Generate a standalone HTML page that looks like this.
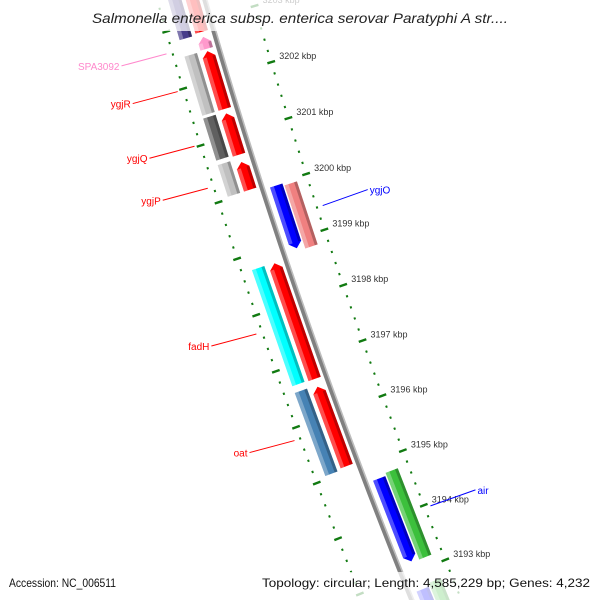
<!DOCTYPE html>
<html><head><meta charset="utf-8"><style>
html,body{margin:0;padding:0;background:#fff;width:600px;height:600px;overflow:hidden;}
svg{display:block;font-family:"Liberation Sans",sans-serif;}
</style></head><body>
<svg id="map" width="600" height="600" viewBox="0 0 600 600" xmlns="http://www.w3.org/2000/svg" overflow="hidden">
<g id="g-backbone"></g>
<g id="g-ticks"></g>
<g id="g-features"></g>
<g id="g-labels"></g>
<rect x="86" y="0" width="428" height="31" fill="#fff" fill-opacity="0.75"/>
<text x="300" y="23" text-anchor="middle" font-style="italic" font-size="14" fill="#222" textLength="416" lengthAdjust="spacingAndGlyphs">Salmonella enterica subsp. enterica serovar Paratyphi A str....</text>
<rect x="0" y="572" width="124" height="28" fill="#fff" fill-opacity="0.75"/>
<rect x="256" y="572" width="344" height="28" fill="#fff" fill-opacity="0.75"/>
<text x="9" y="587" font-size="12" fill="#111" textLength="107" lengthAdjust="spacingAndGlyphs">Accession: NC_006511</text>
<text x="262" y="587" font-size="12" fill="#111" textLength="328" lengthAdjust="spacingAndGlyphs">Topology: circular; Length: 4,585,229 bp; Genes: 4,232</text>
</svg>
<script>
// ---- data (kbp) ----
const majorTicks = [3204,3203,3202,3201,3200,3199,3198,3197,3196,3195,3194,3193,3192];
const tickLabels = ["3204 kbp","3203 kbp","3202 kbp","3201 kbp","3200 kbp","3199 kbp","3198 kbp","3197 kbp","3196 kbp","3195 kbp","3194 kbp","3193 kbp","3192 kbp"];
const leftInnerStart = [3202.83,3202.53,3201.47,3200.66,3200.04,3196.66,3195.09];
const leftInnerEnd   = [3203.70,3202.74,3202.49,3201.39,3200.53,3198.73,3196.52];
const leftInnerColor = ["#ff0000","#ff99cc","#ff0000","#ff0000","#ff0000","#ff0000","#ff0000"];
const leftOuterStart = [3202.80,3201.47,3200.68,3200.04,3196.67,3195.06];
const leftOuterEnd   = [3203.70,3202.51,3201.42,3200.60,3198.74,3196.55];
const leftOuterColor = ["#483d8b","#c0c0c0","#606060","#c0c0c0","#00ffff","#4682b4"];
const rightInnerStart = [3198.85,3193.19,3191.40];
const rightInnerEnd   = [3199.97,3194.70,3192.68];
const rightInnerColor = ["#0000ff","#0000ff","#0000ff"];
const rightOuterStart = [3198.80,3193.17,3191.40];
const rightOuterEnd   = [3199.93,3194.75,3192.74];
const rightOuterColor = ["#f08080","#3cc03c","#3cc03c"];
const geneNames = ["SPA3092","ygjR","ygjQ","ygjP","fadH","oat","ygjO","air"];
const geneKbp   = [3202.64,3201.98,3201.02,3200.28,3197.70,3195.80,3199.40,3193.95];
const geneSide  = ["L","L","L","L","L","L","R","R"];
const geneColor = ["#ff88cc","#ff0000","#ff0000","#ff0000","#ff0000","#ff0000","#0000ff","#0000ff"];

// ---- geometry ----
const CX=6039, CY=-1676, R0=6070, A0=161, K=0.5574, KREF=3198;
function P(kbp,off){const a=(A0+(kbp-KREF)*K)*Math.PI/180;const r=R0+off;return [CX+r*Math.cos(a),CY+r*Math.sin(a)];}
const NS="http://www.w3.org/2000/svg";
function mk(tag,attrs,parent){const e=document.createElementNS(NS,tag);for(const k in attrs)e.setAttribute(k,attrs[k]);parent.appendChild(e);return e;}
function poly(pts){return pts.map(p=>p[0].toFixed(2)+","+p[1].toFixed(2)).join(" ");}

// backbone
const gb=document.getElementById('g-backbone');
function arcPts(off){const a=[];for(let k=3205;k>=3190;k-=0.5)a.push(P(k,off));return a;}
const bb1=mk('polyline',{points:poly(arcPts(0.6)),fill:'none',stroke:'#808080','stroke-width':4},gb);


const bb2=mk('polyline',{points:poly(arcPts(-1.8)),fill:'none',stroke:'#bdbdbd','stroke-width':1.6},gb);



// ticks
const gt=document.getElementById('g-ticks');
const TICK='#117a11';
for(let i=0;i<majorTicks.length-1;i++){
  for(let j=0;j<5;j++){
    const k=majorTicks[i]-j*0.2;
    const major=(j===0);
    const len=major?4:1;
    [-46,46].forEach(o=>{
      const a=P(k,o-len),b=P(k,o+len);
      const t=mk('line',{x1:a[0],y1:a[1],x2:b[0],y2:b[1],stroke:TICK,'stroke-width':major?2.4:2.2},gt);
      
      
    });
  }
}
majorTicks.forEach((k,i)=>{
  const p=P(k,-46);
  const t=mk('text',{x:p[0]+8,y:p[1]-3,'font-size':9,fill:'#333'},gt);
  t.textContent=tickLabels[i];
  
  
});

// features
const gf=document.getElementById('g-features');
const HW=6.5, HEAD=0.1;
function feature(s,e,o,color,arrow,name){
  const g=mk('g',{},gf);
  
  
  let pts, bs=s, be=e;
  if(arrow==='up'){be=e-HEAD;pts=[P(s,o-HW),P(s,o+HW),P(be,o+HW),P(e,o),P(be,o-HW)];}
  else if(arrow==='down'){bs=s+HEAD;pts=[P(e,o-HW),P(e,o+HW),P(bs,o+HW),P(s,o),P(bs,o-HW)];}
  else pts=[P(s,o-HW),P(s,o+HW),P(e,o+HW),P(e,o-HW)];
  mk('polygon',{points:poly(pts),fill:color},g);
  mk('polygon',{points:poly([P(bs,o+HW-4),P(bs,o+HW),P(be,o+HW),P(be,o+HW-4)]),fill:'#fff','fill-opacity':0.3},g);
  mk('polygon',{points:poly([P(bs,o-HW),P(bs,o-HW+3),P(be,o-HW+3),P(be,o-HW)]),fill:'#000','fill-opacity':0.25},g);
}
leftInnerStart.forEach((s,i)=>feature(s,leftInnerEnd[i],12,leftInnerColor[i],'up','orf-left-inner'));
leftOuterStart.forEach((s,i)=>feature(s,leftOuterEnd[i],29,leftOuterColor[i],null,'cog-left-outer'));
rightInnerStart.forEach((s,i)=>feature(s,rightInnerEnd[i],-14,rightInnerColor[i],'down','orf-right-inner'));
rightOuterStart.forEach((s,i)=>feature(s,rightOuterEnd[i],-28.5,rightOuterColor[i],null,'cog-right-outer'));

// gene labels
const gl=document.getElementById('g-labels');
geneNames.forEach((n,i)=>{
  const L=geneSide[i]==='L';
  const a=P(geneKbp[i],L?52:-52);
  const bx=a[0]+(L?-45:45), by=a[1]+(L?12:-16);
  const ln=mk('line',{x1:a[0],y1:a[1],x2:bx,y2:by,stroke:geneColor[i],'stroke-width':1},gl);
  
  
  const t=mk('text',{x:L?bx-2:bx+2,y:by+4,'font-size':10,fill:geneColor[i],'text-anchor':L?'end':'start'},gl);
  t.textContent=n;
  
  
});
</script>
</body></html>
